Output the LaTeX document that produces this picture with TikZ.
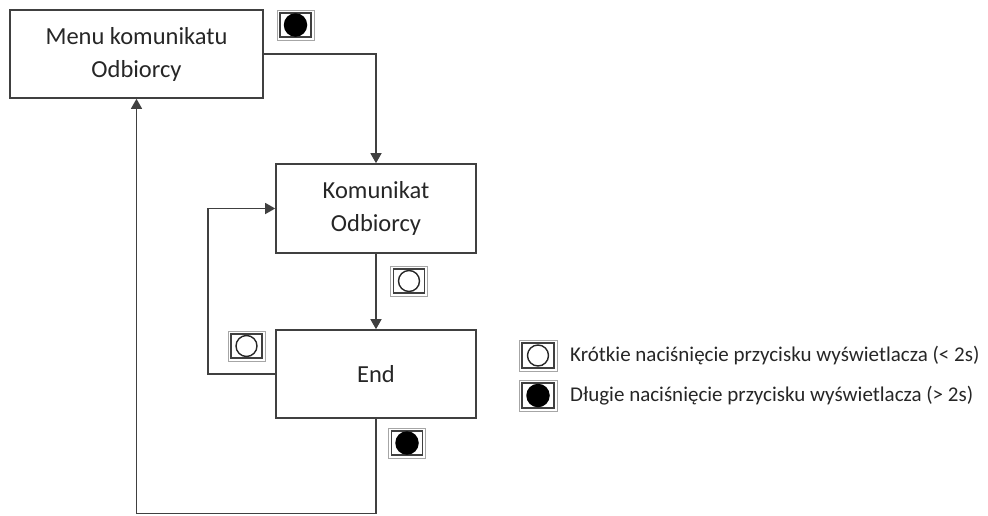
\documentclass[tikz,border=0pt]{standalone}
\usepackage{fontspec}
\setmainfont{Carlito}
\usetikzlibrary{arrows.meta}
\definecolor{frame}{HTML}{404040}
\definecolor{txt}{HTML}{262626}
\tikzset{
  stepbox/.style={draw=frame, line width=1.6pt, fill=white, align=center, text=txt,
    font=\fontsize{24.5}{33}\selectfont, inner sep=0pt},
  conn/.style={draw=frame, line width=1.3pt},
  arr/.style={conn, -{Triangle[length=10pt,width=11pt]}},
  icon/.style={draw=gray!70, line width=0.9pt, minimum width=37pt, minimum height=30pt, inner sep=0pt},
  iconin/.style={draw=frame, line width=1.1pt, minimum width=31pt, minimum height=24pt, inner sep=0pt},
  dotw/.style={circle, draw=black!85, line width=1.4pt, minimum size=21pt, inner sep=0pt},
  dotb/.style={circle, fill=black, minimum size=23.5pt, inner sep=0pt},
  legtext/.style={anchor=west, text=txt, font=\fontsize{21}{25}\selectfont, inner sep=0pt}
}
\begin{document}
\begin{tikzpicture}[x=1pt,y=-1pt]
\useasboundingbox (0,0) rectangle (988,515);
\node[stepbox, minimum width=253pt, minimum height=88pt] (menu) at (136.5,54) {Menu komunikatu\\Odbiorcy};
\node[stepbox, minimum width=200pt, minimum height=89pt] (kom) at (376,208.5) {Komunikat\\Odbiorcy};
\node[stepbox, minimum width=200pt, minimum height=88pt] (end) at (376,374) {End};
\coordinate (loopx) at (208,290);
\coordinate (bot) at (136.5,513.5);
\draw[arr] (menu.east) -| (kom.north);
\draw[arr] (kom.south) -- (end.north);
\draw[arr] (end.west) -| (loopx) |- (kom.west);
\draw[arr] (end.south) |- (bot) -- (menu.south);
% icons
\node[icon] (i1) at (295.5,25) {};
\node[iconin] (j1) at (i1) {};
\node[dotb] (d1) at (i1) {};
\node[icon] (i2) at (409,281) {};
\node[iconin] (j2) at (i2) {};
\node[dotw] (d2) at (i2) {};
\node[icon] (i3) at (246.5,346) {};
\node[iconin] (j3) at (i3) {};
\node[dotw] (d3) at (i3) {};
\node[icon] (i4) at (407,443) {};
\node[iconin] (j4) at (i4) {};
\node[dotb] (d4) at (i4) {};
% legend
\node[icon, minimum width=38pt, minimum height=31pt] (l1) at (538,355.5) {};
\node[iconin, minimum width=32pt, minimum height=25pt] (m1) at (l1) {};
\node[dotw] (ld1) at (l1) {};
\node[icon, minimum width=38pt, minimum height=31pt] (l2) at (538,395.5) {};
\node[iconin, minimum width=32pt, minimum height=25pt] (m2) at (l2) {};
\node[dotb] (ld2) at (l2) {};
\node[legtext] (t1) at (570,356) {Krótkie naciśnięcie przycisku wyświetlacza (< 2s)};
\node[legtext] (t2) at (570,396) {Długie naciśnięcie przycisku wyświetlacza (> 2s)};
\end{tikzpicture}
\end{document}
